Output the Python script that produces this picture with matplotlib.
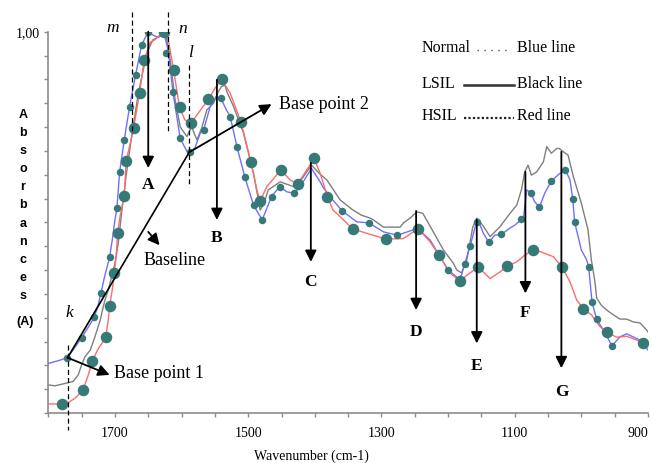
import matplotlib
matplotlib.use('Agg')
import matplotlib.pyplot as plt
from matplotlib.lines import Line2D

# ---------------- data ----------------
normal_wn = [1800, 1782, 1772, 1763, 1750, 1740, 1731, 1725, 1721, 1715, 1708, 1704, 1700, 1697,
             1693, 1686, 1678, 1669, 1660, 1650, 1643, 1635, 1626, 1620, 1613, 1602, 1592, 1588,
             1580, 1572, 1567, 1557, 1548, 1541, 1532, 1527, 1517, 1505, 1492, 1479, 1465, 1453,
             1442, 1431, 1422, 1405, 1392, 1387, 1373, 1359, 1337, 1319, 1297, 1276, 1253, 1245,
             1227, 1212, 1200, 1185, 1180, 1175, 1167, 1156, 1147, 1139, 1130, 1120, 1107, 1100,
             1090, 1087, 1082, 1076, 1070, 1063, 1055, 1045, 1032, 1024, 1017, 1013, 1010, 1000,
             992, 989, 984, 977, 967, 954, 942, 932, 912, 900]
normal_abs = [0.304, 0.311, 0.316, 0.332, 0.358, 0.380, 0.401, 0.427, 0.452, 0.489, 0.527, 0.563, 0.605, 0.630,
              0.705, 0.773, 0.843, 0.909, 0.972, 1.000, 0.993, 0.988, 0.995, 0.960, 0.874, 0.776, 0.749, 0.747,
              0.756, 0.787, 0.794, 0.843, 0.864, 0.860, 0.834, 0.822, 0.759, 0.695, 0.636, 0.605, 0.654, 0.675,
              0.664, 0.661, 0.675, 0.713, 0.685, 0.672, 0.647, 0.624, 0.601, 0.599, 0.580, 0.573, 0.584, 0.586,
              0.563, 0.528, 0.500, 0.483, 0.489, 0.513, 0.550, 0.608, 0.577, 0.558, 0.573, 0.575, 0.588, 0.594,
              0.606, 0.608, 0.668, 0.662, 0.643, 0.632, 0.661, 0.687, 0.703, 0.710, 0.689, 0.649, 0.600, 0.542,
              0.521, 0.506, 0.432, 0.397, 0.374, 0.341, 0.360, 0.366, 0.353, 0.332]

lsil_wn = [1800, 1790, 1763, 1755, 1750, 1745, 1737, 1730, 1722, 1718, 1715, 1710, 1705, 1700,
           1695, 1690, 1683, 1675, 1665, 1656, 1650, 1643, 1635, 1628, 1623, 1617, 1610, 1602,
           1592, 1585, 1577, 1570, 1562, 1552, 1545, 1540, 1535, 1532, 1522, 1507, 1492, 1482,
           1476, 1470, 1452, 1432, 1420, 1405, 1392, 1382, 1362, 1343, 1330, 1317, 1312, 1297,
           1287, 1272, 1267, 1257, 1247, 1238, 1227, 1207, 1192, 1187, 1180, 1172, 1163, 1157,
           1147, 1137, 1122, 1107, 1097, 1090, 1085, 1080, 1075, 1067, 1057, 1052, 1045, 1037,
           1033, 1027, 1020, 1012, 1000, 990, 985, 980, 977, 970, 962, 952, 942, 932, 922, 912,
           902, 900]
lsil_abs = [0.259, 0.257, 0.266, 0.280, 0.301, 0.318, 0.332, 0.360, 0.395, 0.420, 0.437, 0.458, 0.486, 0.514,
            0.556, 0.620, 0.700, 0.780, 0.870, 0.930, 0.962, 0.983, 0.989, 0.999, 0.990, 0.940, 0.860, 0.800,
            0.780, 0.801, 0.773, 0.797, 0.836, 0.850, 0.874, 0.885, 0.888, 0.874, 0.843, 0.787, 0.703, 0.626,
            0.640, 0.668, 0.685, 0.675, 0.690, 0.720, 0.701, 0.689, 0.647, 0.626, 0.615, 0.609, 0.605, 0.590,
            0.590, 0.590, 0.599, 0.609, 0.622, 0.619, 0.592, 0.542, 0.514, 0.500, 0.494, 0.521, 0.590, 0.609,
            0.592, 0.570, 0.591, 0.619, 0.636, 0.668, 0.706, 0.720, 0.699, 0.706, 0.727, 0.759, 0.745, 0.755,
            0.755, 0.748, 0.741, 0.696, 0.640, 0.584, 0.521, 0.479, 0.441, 0.426, 0.416, 0.406, 0.397, 0.397,
            0.391, 0.389, 0.374, 0.370]

hsil_wn = [1800, 1790, 1779, 1770, 1760, 1748, 1740, 1734, 1725, 1714, 1710, 1708, 1704, 1701,
           1698, 1696, 1692, 1686, 1683, 1672, 1663, 1656, 1647, 1640, 1635, 1632, 1626, 1620,
           1612, 1603, 1595, 1586, 1577, 1560, 1550, 1540, 1527, 1511, 1496, 1487, 1482, 1472,
           1451, 1437, 1426, 1401, 1392, 1381, 1373, 1362, 1343, 1322, 1293, 1267, 1245, 1227,
           1213, 1197, 1182, 1172, 1155, 1145, 1137, 1122, 1111, 1097, 1085, 1072, 1057, 1042,
           1029, 1017, 1007, 997, 985, 972, 961, 947, 932, 917, 907, 900]
hsil_abs = [0.219, 0.219, 0.219, 0.222, 0.231, 0.248, 0.280, 0.309, 0.335, 0.358, 0.395, 0.425, 0.458, 0.494,
            0.531, 0.578, 0.615, 0.656, 0.729, 0.797, 0.872, 0.941, 0.978, 0.983, 0.990, 0.993, 1.000, 0.983,
            0.920, 0.841, 0.815, 0.808, 0.825, 0.858, 0.881, 0.900, 0.871, 0.811, 0.727, 0.668, 0.645, 0.675,
            0.710, 0.689, 0.680, 0.734, 0.703, 0.654, 0.626, 0.612, 0.586, 0.577, 0.565, 0.566, 0.587, 0.559,
            0.530, 0.493, 0.477, 0.489, 0.506, 0.493, 0.482, 0.496, 0.508, 0.517, 0.531, 0.543, 0.536, 0.528,
            0.506, 0.475, 0.437, 0.419, 0.406, 0.381, 0.369, 0.359, 0.361, 0.353, 0.347, 0.345]

# marker points (large dots on HSIL, small dots on Normal)
hsil_dot_wn = [1779, 1748, 1735, 1714, 1708, 1701, 1696, 1686, 1683, 1672, 1663, 1656, 1626, 1612,
               1603, 1586, 1560, 1540, 1511, 1496, 1482, 1451, 1426, 1401, 1381, 1343, 1293, 1245,
               1213, 1182, 1155, 1111, 1072, 1029, 997, 961, 907]
hsil_dot_abs = [0.219, 0.248, 0.309, 0.359, 0.425, 0.494, 0.578, 0.656, 0.729, 0.797, 0.872, 0.941, 1.000, 0.920,
                0.841, 0.808, 0.858, 0.900, 0.810, 0.727, 0.645, 0.710, 0.680, 0.734, 0.654, 0.586, 0.565, 0.587,
                0.531, 0.477, 0.506, 0.508, 0.543, 0.506, 0.419, 0.369, 0.347]
normal_dot_wn = [1772, 1750, 1731, 1721, 1708, 1697, 1693, 1686, 1678, 1669, 1660, 1650, 1623, 1613,
                 1602, 1588, 1567, 1541, 1527, 1517, 1505, 1492, 1479, 1465, 1453, 1431, 1359, 1319,
                 1276, 1200, 1175, 1167, 1156, 1139, 1120, 1090, 1076, 1063, 1045, 1024, 1013, 1010,
                 989, 984, 977, 954]
normal_dot_abs = [0.316, 0.358, 0.401, 0.452, 0.527, 0.630, 0.705, 0.773, 0.843, 0.909, 0.972, 1.000, 0.956, 0.874,
                  0.776, 0.747, 0.794, 0.860, 0.822, 0.759, 0.695, 0.636, 0.605, 0.654, 0.675, 0.661, 0.624, 0.599,
                  0.573, 0.500, 0.513, 0.550, 0.601, 0.558, 0.575, 0.606, 0.662, 0.632, 0.687, 0.710, 0.649, 0.600,
                  0.506, 0.432, 0.397, 0.341]

x_label_ticks = [1700, 1500, 1300, 1100, 900]
x_label_text = ['1700', '1500', '1300', '1100', '900']
y_label_ticks = [1.0]
y_label_text = ['1,00']

peak_labels = ['A', 'B', 'C', 'D', 'E', 'F', 'G']
peak_wn = [1650, 1547, 1406, 1248, 1157, 1084, 1030]
peak_top = [1.0, 0.899, 0.725, 0.624, 0.605, 0.706, 0.748]
peak_tip = [0.714, 0.605, 0.517, 0.416, 0.346, 0.451, 0.294]
peak_text_y = [0.678, 0.567, 0.475, 0.370, 0.299, 0.410, 0.245]

# ---------------- figure ----------------
W, H = 652, 463
fig = plt.figure(figsize=(W / 100, H / 100), dpi=100)
ax = fig.add_axes([48.3 / W, 50 / H, (648 - 48.3) / W, (413 - 31.7) / H])
ax.set_xlim(1800, 900)
ax.set_ylim(0.2, 1.0)

SERIF = ['Liberation Serif', 'DejaVu Serif']
teal = '#357a76'

ax.plot(lsil_wn, lsil_abs, color='#7f7f7f', lw=1.0, zorder=2)
ax.plot(normal_wn, normal_abs, color='#6f6fff', lw=1.0, zorder=3)
ax.plot(hsil_wn, hsil_abs, color='#ff6b6b', lw=1.0, zorder=3)
ax.plot(hsil_dot_wn, hsil_dot_abs, 'o', color=teal, ms=8.3, mec='none', zorder=5)
ax.plot(normal_dot_wn, normal_dot_abs, 'o', color=teal, ms=5.4, mec='none', zorder=5)

# spines / ticks
for s in ['top', 'right']:
    ax.spines[s].set_visible(False)
for s in ['left', 'bottom']:
    ax.spines[s].set_color('#8c8c8c')
    ax.spines[s].set_linewidth(1.2)

ax.set_xticks(x_label_ticks)
ax.set_xticklabels(x_label_text, fontfamily=SERIF, fontsize=10)
ax.set_xticks([v for v in range(1800, 899, -50)], minor=True)
ax.set_yticks(y_label_ticks)
ax.set_yticklabels(y_label_text, fontfamily=SERIF, fontsize=10)
ax.set_yticks([0.2 + 0.05 * i for i in range(17)], minor=True)
ax.tick_params(axis='both', which='both', direction='out', length=3, width=1, color='#8c8c8c')
ax.tick_params(axis='x', which='major', pad=7)
ax.tick_params(axis='y', which='major', pad=3)
ax.get_xticklabels()[-1].set_ha('right')

# dashed marker lines m, n, l, k
dash = dict(color='black', lw=0.9, ls=(0, (4, 2.5)), clip_on=False, zorder=6)
ax.plot([1674, 1674], [1.041, 0.787], **dash)
ax.plot([1620, 1620], [1.041, 0.790], **dash)
ax.plot([1588.5, 1588.5], [0.930, 0.675], **dash)
ax.plot([1770, 1770], [0.343, 0.164], **dash)
it = dict(fontfamily=SERIF, fontstyle='italic', fontsize=12.5, ha='center', va='center')
ax.text(1703, 1.008, 'm', **it)
ax.text(1598, 1.006, 'n', **it)
ax.text(1586, 0.955, 'l', **it)
ax.text(1769, 0.410, 'k', **it)

# peak arrows
arrow = dict(arrowstyle='-|>', color='black', lw=1.3, mutation_scale=17, shrinkA=0, shrinkB=0)
for lab, wn, top, tip, ty in zip(peak_labels, peak_wn, peak_top, peak_tip, peak_text_y):
    ax.annotate('', xy=(wn, tip), xytext=(wn, top), arrowprops=arrow, zorder=7)
    ax.text(wn, ty, lab, fontfamily=SERIF, fontweight='bold', fontsize=12.5,
            ha='center', va='center')

# baseline
bp1 = (1771, 0.316)
bp2 = (1588.5, 0.747)
ax.plot([bp1[0], bp2[0]], [bp1[1], bp2[1]], color='black', lw=1.2, zorder=7)
ax.annotate('', xy=(1465, 0.848), xytext=bp2, arrowprops=arrow, zorder=7)
ax.annotate('', xy=(1708, 0.280), xytext=bp1, arrowprops=arrow, zorder=7)
ax.annotate('', xy=(1633, 0.552), xytext=(1650, 0.580), arrowprops=arrow, zorder=7)
txt = dict(fontfamily=SERIF, fontsize=13, va='center', ha='left')
ax.text(1454, 0.848, 'Base point 2', **txt)
ax.text(1701, 0.283, 'Base point 1', **txt)
ax.text(1657, 0.521, 'Baseline', **txt)

# legend drawn as text and lines (figure pixels)
def P(x, y):
    return (x / W, 1 - y / H)

leg = dict(fontfamily=SERIF, fontsize=11.5, va='center', ha='left')
for name, desc, yy in [('Normal', 'Blue line', 48.5), ('LSIL', 'Black line', 83.5), ('HSIL', 'Red line', 116.5)]:
    fig.text(*P(421.7, yy), name, **leg)
    fig.text(*P(517.3, yy), desc, **leg)
fig.add_artist(Line2D([477 / W, 509 / W], [1 - 50 / H] * 2, color='#555555', lw=1.0, ls=(0, (1, 4))))
fig.add_artist(Line2D([464 / W, 514 / W], [1 - 85 / H] * 2, color='#333333', lw=1.8))
fig.add_artist(Line2D([464 / W, 514 / W], [1 - 118 / H] * 2, color='#222222', lw=1.6, ls=(0, (1, 1))))

# axis titles
for i, ch in enumerate('Absorbances'):
    fig.text(*P(23, 115 + i * 18.1), ch, fontfamily=['Liberation Sans', 'DejaVu Sans'],
             fontweight='bold', fontsize=9, ha='center', va='center')
fig.text(*P(25, 322.3), '(A)', fontfamily=['Liberation Sans', 'DejaVu Sans'],
         fontweight='bold', fontsize=9, ha='center', va='center')
fig.text(*P(311, 456), 'Wavenumber (cm-1)', fontfamily=SERIF, fontsize=10,
         ha='center', va='center')

fig.savefig('out.png', dpi=100)
